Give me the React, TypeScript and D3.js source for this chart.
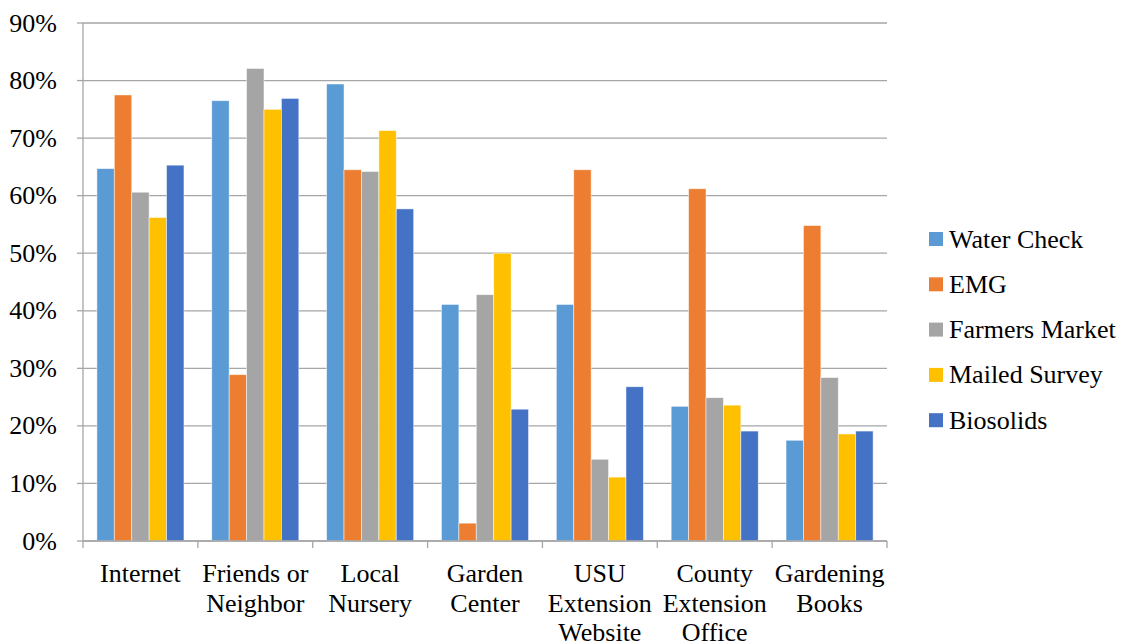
import React from 'react';
import * as d3 from 'd3';

const categories = [
  'Internet',
  'Friends or Neighbor',
  'Local Nursery',
  'Garden Center',
  'USU Extension Website',
  'County Extension Office',
  'Gardening Books',
];

// wrapped the way the original axis wraps them
const categoryLines = [
  ['Internet'],
  ['Friends or', 'Neighbor'],
  ['Local', 'Nursery'],
  ['Garden', 'Center'],
  ['USU', 'Extension', 'Website'],
  ['County', 'Extension', 'Office'],
  ['Gardening', 'Books'],
];

const seriesNames = ['Water Check', 'EMG', 'Farmers Market', 'Mailed Survey', 'Biosolids'];
const seriesColors = ['#5b9bd5', '#ed7d31', '#a5a5a5', '#ffc000', '#4472c4'];

const waterCheck = [64.7, 76.5, 79.4, 41.1, 41.1, 23.4, 17.5];
const emg = [77.5, 28.9, 64.5, 3.1, 64.5, 61.2, 54.8];
const farmersMarket = [60.6, 82.1, 64.2, 42.8, 14.2, 24.9, 28.4];
const mailedSurvey = [56.2, 75.0, 71.3, 50.0, 11.1, 23.6, 18.6];
const biosolids = [65.3, 76.9, 57.7, 22.9, 26.8, 19.1, 19.1];

const seriesValues = [waterCheck, emg, farmersMarket, mailedSurvey, biosolids];

const yTicks = [0, 10, 20, 30, 40, 50, 60, 70, 80, 90];

const W = 1121;
const H = 644;
const left = 83;
const right = 887;
const top = 23;
const bottom = 541;
const font = "'Times New Roman', 'Liberation Serif', Tinos, Times, 'DejaVu Serif', 'Noto Serif', serif";
const fontSize = 26;
const lineColor = '#a6a6a6';

const textStyle = { fontFamily: font, fontSize: fontSize + 'px' };

const App: React.FC = () => {
  const x0 = d3.scaleBand<string>().domain(categories).range([left, right]).padding(0);
  const step = x0.bandwidth();
  const gap = step * 0.242; // space between groups
  const x1 = d3
    .scaleBand<string>()
    .domain(seriesNames)
    .range([gap / 2, step - gap / 2])
    .padding(0);
  const y = d3.scaleLinear().domain([0, 90]).range([bottom, top]);

  return (
    <svg
      width={W}
      height={H}
      style={{ position: 'absolute', left: 0, top: 0, background: '#fff', fontFamily: font }}
    >
      {/* gridlines */}
      {yTicks.map(t => (
        <line key={'g' + t} x1={left} x2={right} y1={y(t)} y2={y(t)} stroke={lineColor} strokeWidth={1.3} />
      ))}

      {/* bars */}
      {categories.map((c, ci) => (
        <g key={c} transform={`translate(${x0(c)},0)`}>
          {seriesNames.map((s, si) => {
            const v = seriesValues[si][ci];
            return (
              <rect
                key={s}
                x={x1(s)}
                y={y(v)}
                width={x1.bandwidth()}
                height={y(0) - y(v)}
                fill={seriesColors[si]}
                stroke="#fff"
                strokeOpacity={0.6}
                strokeWidth={0.8}
              />
            );
          })}
        </g>
      ))}

      {/* y axis */}
      <line x1={left} x2={left} y1={top} y2={bottom} stroke={lineColor} strokeWidth={1.3} />
      {yTicks.map(t => (
        <g key={'y' + t}>
          <line x1={left - 6} x2={left} y1={y(t)} y2={y(t)} stroke={lineColor} strokeWidth={1.3} />
          <text x={57} y={y(t)} dy="0.33em" textAnchor="end" style={textStyle} fill="#000">
            {t}%
          </text>
        </g>
      ))}

      {/* x axis */}
      <line x1={left} x2={right} y1={bottom} y2={bottom} stroke={lineColor} strokeWidth={1.3} />
      {d3.range(categories.length + 1).map(i => (
        <line
          key={'xt' + i}
          x1={left + i * step}
          x2={left + i * step}
          y1={bottom}
          y2={bottom + 7}
          stroke={lineColor}
          strokeWidth={1.3}
        />
      ))}
      {categories.map((c, ci) => (
        <text key={'xl' + c} textAnchor="middle" style={textStyle} fill="#000">
          {categoryLines[ci].map((ln, li) => (
            <tspan key={li} x={(x0(c) ?? 0) + step / 2} y={582 + li * 29.5}>
              {ln}
            </tspan>
          ))}
        </text>
      ))}

      {/* legend */}
      {seriesNames.map((s, i) => {
        const ly = 239 + i * 45.3;
        return (
          <g key={'lg' + s}>
            <rect x={929} y={ly - 7} width={14} height={14} fill={seriesColors[i]} />
            <text x={949} y={ly} dy="0.33em" style={textStyle} fill="#000">
              {s}
            </text>
          </g>
        );
      })}
    </svg>
  );
};

export default App;
